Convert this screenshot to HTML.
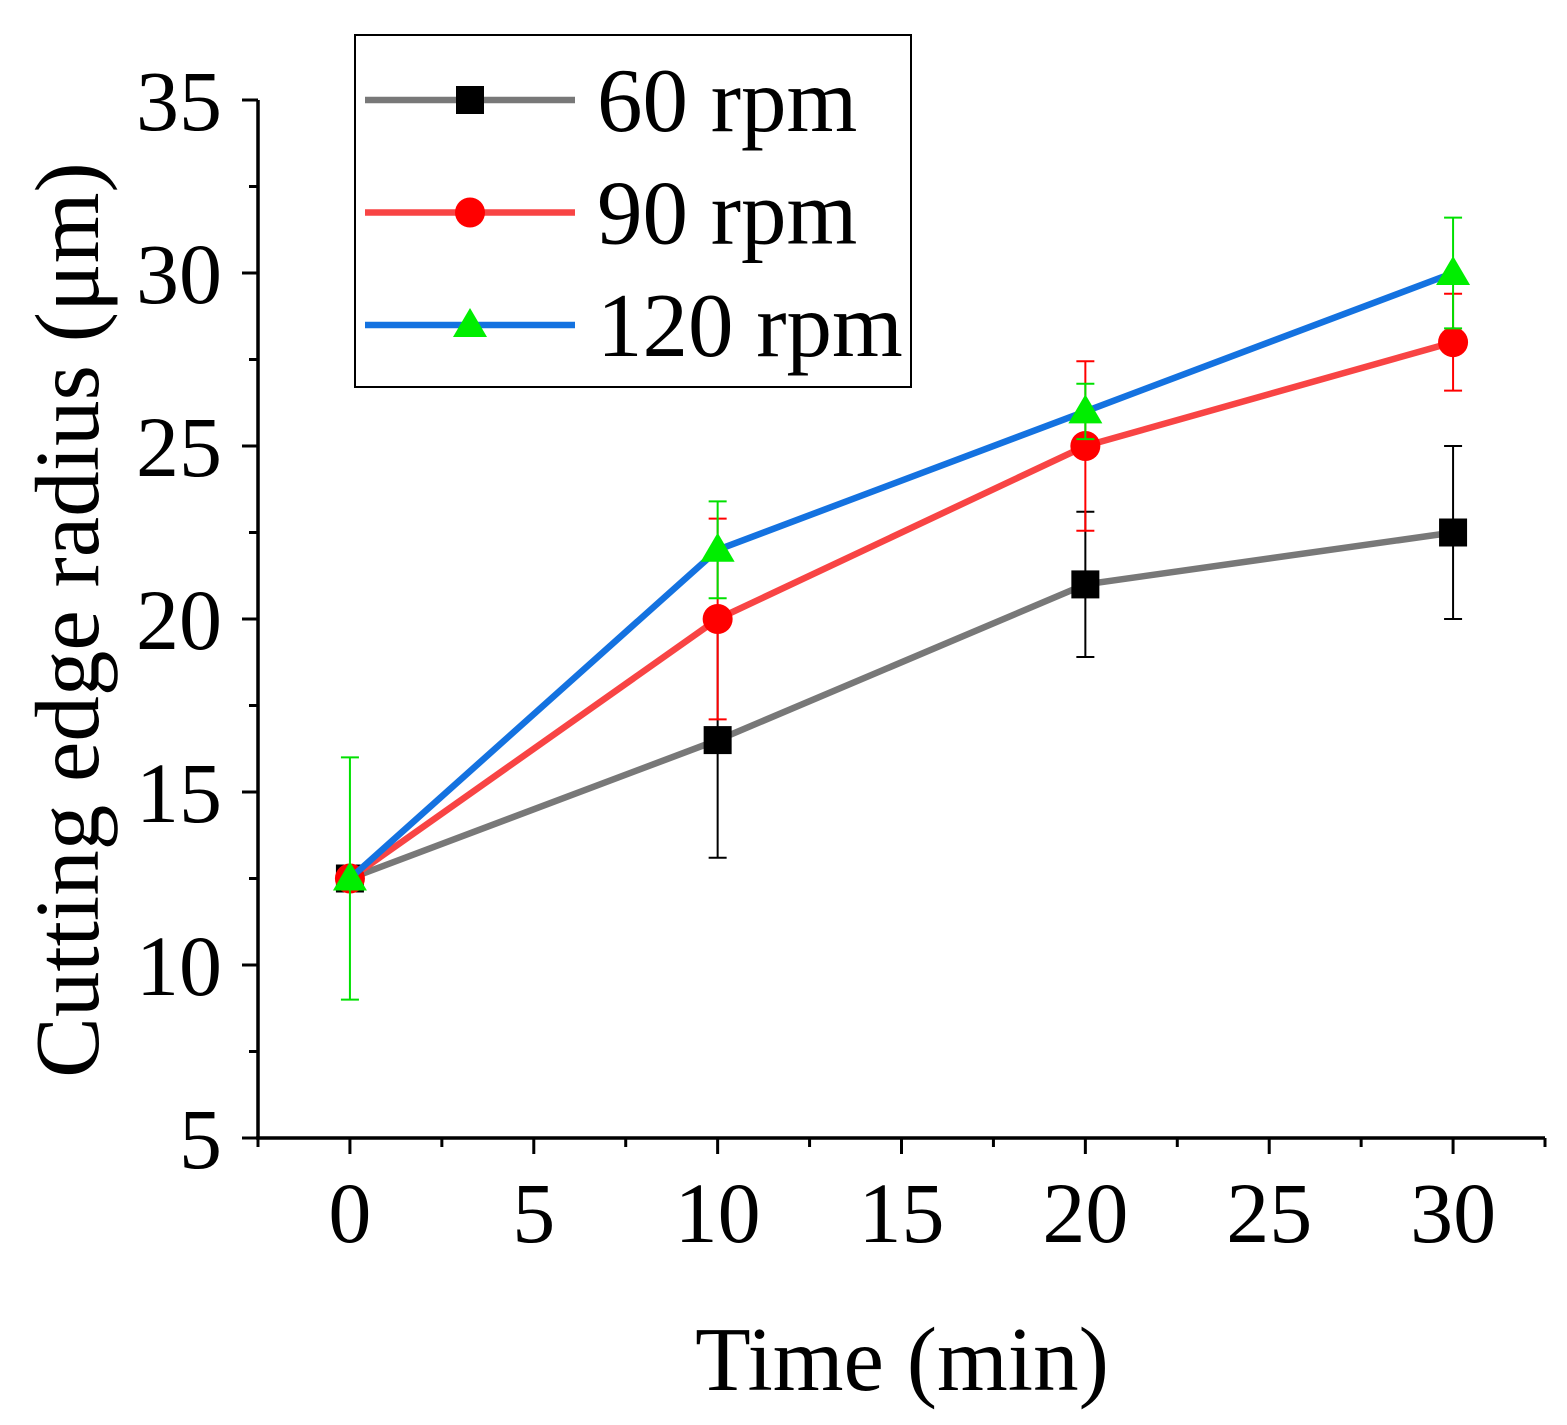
<!DOCTYPE html>
<html><head><meta charset="utf-8"><style>
html,body{margin:0;padding:0;background:#fff;}
svg{display:block;font-family:"Liberation Serif",serif;}
</style></head><body>
<svg id="chart" width="1567" height="1425" viewBox="0 0 1567 1425" xmlns="http://www.w3.org/2000/svg"></svg>
<script>
const times = [0, 10, 20, 30];
const rpm60 = [12.5, 16.5, 21, 22.5];
const rpm60Err = [0.3, 3.4, 2.1, 2.5];
const rpm90 = [12.5, 20, 25, 28];
const rpm90Err = [0.3, 2.9, 2.45, 1.4];
const rpm120 = [12.5, 22, 26, 30];
const rpm120Err = [3.5, 1.4, 0.8, 1.6];
const xTicks = [0, 5, 10, 15, 20, 25, 30];
const yTicks = [5, 10, 15, 20, 25, 30, 35];
const seriesNames = ["60 rpm", "90 rpm", "120 rpm"];

const svg = document.getElementById('chart');
const NS = 'http://www.w3.org/2000/svg';
const X0 = 258, X1 = 1545, Y0 = 1138, Y1 = 100;
const xMin = -2.5, xMax = 32.5, yMin = 5, yMax = 35;
const xs = v => X0 + (v - xMin) / (xMax - xMin) * (X1 - X0);
const ys = v => Y0 - (v - yMin) / (yMax - yMin) * (Y0 - Y1);
function mk(tag, attrs, parent) {
  const e = document.createElementNS(NS, tag);
  for (const k in attrs) e.setAttribute(k, attrs[k]);
  (parent || svg).appendChild(e);
  return e;
}
const ax = mk('g', {});


mk('line', {x1: X0 - 2, y1: Y0, x2: X1, y2: Y0, stroke: '#000', 'stroke-width': 3.5}, ax);
mk('line', {x1: X0, y1: Y0 + 1.5, x2: X0, y2: Y1, stroke: '#000', 'stroke-width': 3.5}, ax);
for (let v = xMin; v <= xMax + 0.01; v += 2.5) {
  const major = Math.abs(v % 5) < 0.01;
  mk('line', {x1: xs(v), y1: Y0, x2: xs(v), y2: Y0 + (major ? 16 : 9), stroke: '#000', 'stroke-width': 3}, ax);
}
for (let v = yMin; v <= yMax + 0.01; v += 2.5) {
  const major = Math.abs(v % 5) < 0.01;
  mk('line', {x1: X0, y1: ys(v), x2: X0 - (major ? 16 : 9), y2: ys(v), stroke: '#000', 'stroke-width': 3}, ax);
}
xTicks.forEach(v => {
  const t = mk('text', {x: xs(v), y: 1242, 'font-size': 86, 'text-anchor': 'middle'});
  
  
  t.textContent = v;
});
yTicks.forEach(v => {
  const t = mk('text', {x: 222, y: ys(v) + 30, 'font-size': 86, 'text-anchor': 'end'});
  
  
  t.textContent = v;
});
const xt = mk('text', {x: 902, y: 1390, 'font-size': 91, 'text-anchor': 'middle'});


xt.textContent = 'Time (min)';
const yt = mk('text', {x: 0, y: 0, 'font-size': 91, 'text-anchor': 'middle', transform: 'translate(98,620) rotate(-90)'});


yt.textContent = 'Cutting edge radius (μm)';

const series = [
  {vals: rpm60, err: rpm60Err, line: '#787878', err_c: '#000', marker: 'square', fill: '#000'},
  {vals: rpm90, err: rpm90Err, line: '#f84444', err_c: '#f00', marker: 'circle', fill: '#f00'},
  {vals: rpm120, err: rpm120Err, line: '#1472e0', err_c: '#00e000', marker: 'triangle', fill: '#00ee00'}
];
function marker(type, x, y, fill, g) {
  if (type === 'square') return mk('rect', {x: x - 14, y: y - 14, width: 28, height: 28, fill}, g);
  if (type === 'circle') return mk('circle', {cx: x, cy: y, r: 15, fill}, g);
  return mk('polygon', {points: `${x},${y - 17} ${x - 17},${y + 12} ${x + 17},${y + 12}`, fill}, g);
}
series.forEach((s, i) => {
  const g = mk('g', {});
  
  
  times.forEach((t, j) => {
    const x = xs(t), yl = ys(s.vals[j] - s.err[j]), yh = ys(s.vals[j] + s.err[j]);
    const eg = mk('g', {stroke: s.err_c, 'stroke-width': 2}, g);
    
    
    mk('line', {x1: x, y1: yl, x2: x, y2: yh}, eg);
    mk('line', {x1: x - 9, y1: yl, x2: x + 9, y2: yl}, eg);
    mk('line', {x1: x - 9, y1: yh, x2: x + 9, y2: yh}, eg);
  });
  const pl = mk('polyline', {points: times.map((t, j) => xs(t) + ',' + ys(s.vals[j])).join(' '), fill: 'none', stroke: s.line, 'stroke-width': 6.5}, g);
  
  
  times.forEach((t, j) => {
    const m = marker(s.marker, xs(t), ys(s.vals[j]), s.fill, g);
    
    
  });
});
const lg = mk('g', {});


mk('rect', {x: 355, y: 35, width: 556, height: 352, fill: '#fff', stroke: '#000', 'stroke-width': 2}, lg);
series.forEach((s, i) => {
  const y = 100 + i * 112.5;
  const eg = mk('g', {}, lg);
  
  
  mk('line', {x1: 365, y1: y, x2: 575, y2: y, stroke: s.line, 'stroke-width': 6.5}, eg);
  marker(s.marker, 470, y, s.fill, eg);
  const t = mk('text', {x: 597, y: y + 31, 'font-size': 91}, eg);
  t.textContent = seriesNames[i];
});
</script>
</body></html>
